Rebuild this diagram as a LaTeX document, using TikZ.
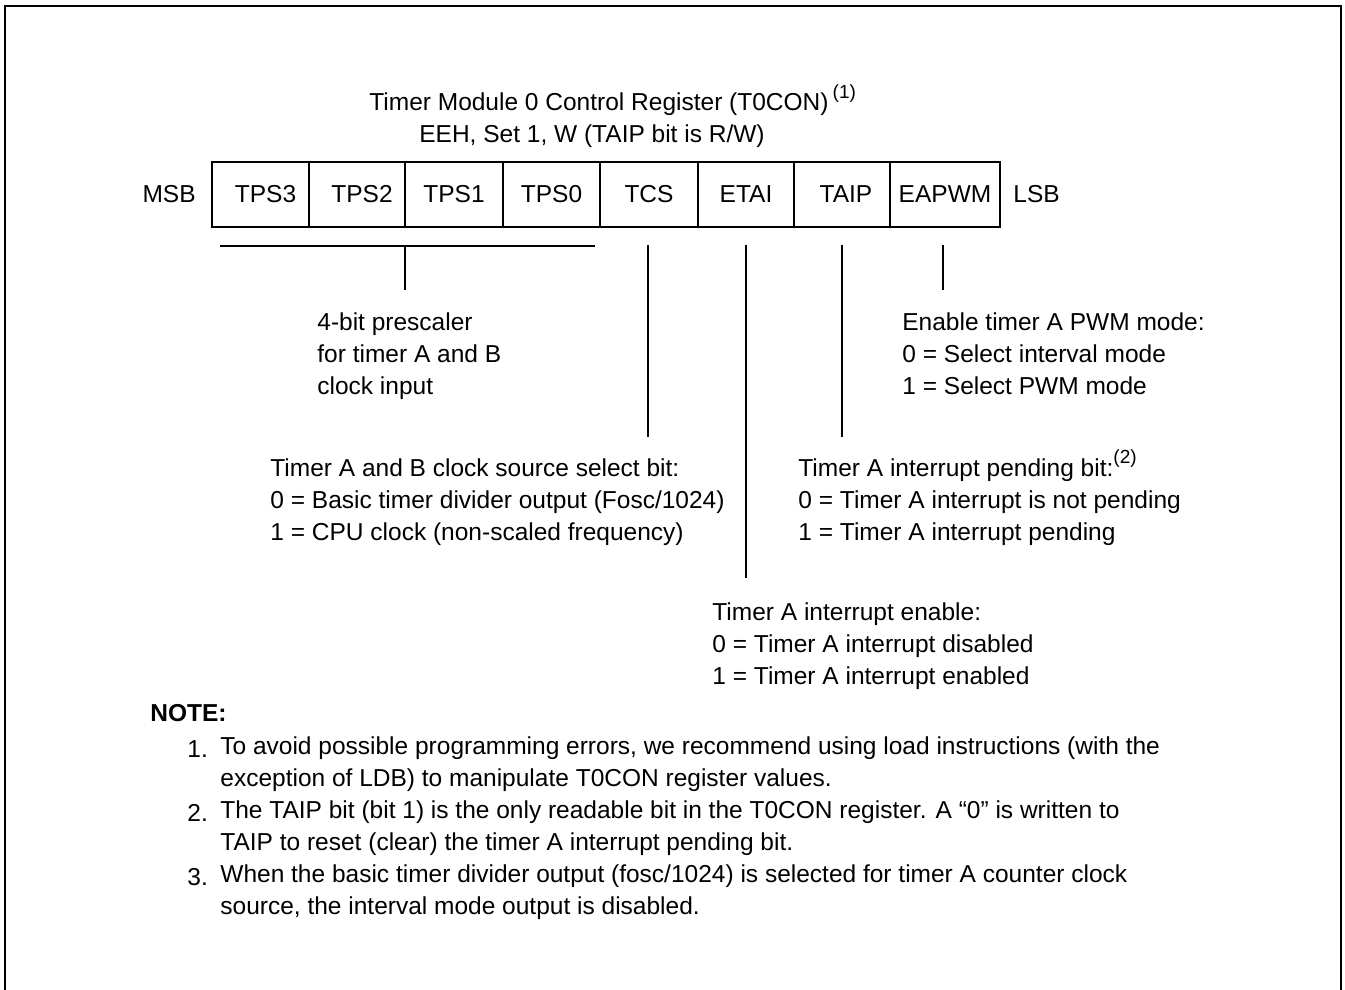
\documentclass[tikz,border=0pt]{standalone}
\usepackage{fontspec}
\setmainfont{Liberation Sans}
\newcommand{\regnote}[1]{\smash{\raisebox{0.5em}{\fontsize{9.5}{10}\selectfont(#1)}}}
\begin{document}
\begin{tikzpicture}[x=0.5pt,y=-0.5pt,
    every node/.style={font=\fontsize{12.25}{16}\selectfont, inner sep=0pt},
    bitcell/.style={draw, line width=1pt, minimum height=32.5pt},
    desc/.style={anchor=north west, align=left},
    stem/.style={line width=0.9pt}]
  \useasboundingbox (0,0) rectangle (1345,990);
  \draw[line width=1.3pt] (5,1000) -- (5,6) -- (1341,6) -- (1341,1000);

  \node[anchor=base] (title) at (599,111) {Timer Module 0 Control Register (T0CON)\rlap{\,\regnote{1}}};
  \node[anchor=base] (addr) at (592,143) {EEH, Set 1, W (TAIP bit is R/W)};

  \node[bitcell, minimum width=48.5pt] (tps3) at (260.5,194.5) {\hspace{5pt}TPS3};
  \node[bitcell, minimum width=48pt] (tps2) at (357,194.5) {\hspace{5pt}TPS2};
  \node[bitcell, minimum width=49pt] (tps1) at (454,194.5) {TPS1};
  \node[bitcell, minimum width=48.5pt] (tps0) at (551.5,194.5) {TPS0};
  \node[bitcell, minimum width=49pt] (tcs) at (649,194.5) {TCS};
  \node[bitcell, minimum width=48pt] (etai) at (746,194.5) {ETAI};
  \node[bitcell, minimum width=48pt] (taip) at (842,194.5) {\hspace{4pt}TAIP};
  \node[bitcell, minimum width=55pt] (eapwm) at (945,194.5) {EAPWM};
  \node[anchor=base east] (msb) at ([xshift=-7.5pt]tps3.base west) {MSB};
  \node[anchor=base west] (lsb) at ([xshift=6pt]eapwm.base east) {LSB};

  \coordinate (brL) at (220,246);
  \coordinate (brR) at (595,246);
  \coordinate (brM) at (405,246);
  \coordinate (brE) at (405,290);
  \coordinate (tcsT) at (648,245);
  \coordinate (tcsB) at (648,437);
  \coordinate (etaiT) at (746,245);
  \coordinate (etaiB) at (746,578);
  \coordinate (taipT) at (842,245);
  \coordinate (taipB) at (842,437);
  \coordinate (pwmT) at (943,245);
  \coordinate (pwmB) at (943,290);

  \draw[stem] (brL) -- (brR);
  \draw[stem] (brM) -- (brE);
  \draw[stem] (tcsT) -- (tcsB);
  \draw[stem] (etaiT) -- (etaiB);
  \draw[stem] (taipT) -- (taipB);
  \draw[stem] (pwmT) -- (pwmB);

  \node[desc] (presc) at (317,312) {4-bit prescaler\\for timer A and B\\clock input};
  \node[desc] (clksrc) at (270,458) {Timer A and B clock source select bit:\\0 = Basic timer divider output (Fosc/1024)\\1 = CPU clock (non-scaled frequency)};
  \node[desc] (inten) at (712,602) {Timer A interrupt enable:\\0 = Timer A interrupt disabled\\1 = Timer A interrupt enabled};
  \node[desc] (intpnd) at (798,458) {Timer A interrupt pending bit:\regnote{2}\\0 = Timer A interrupt is not pending\\1 = Timer A interrupt pending};
  \node[desc] (pwm) at (902,312) {Enable timer A PWM mode:\\0 = Select interval mode\\1 = Select PWM mode};

  \node[anchor=north west, font=\fontsize{12.25}{16}\selectfont\bfseries] (note) at (150,704) {NOTE:};
  \node[desc] (n1num) at (187,740) {1.};
  \node[desc] (n1) at (220,736) {To avoid possible programming errors, we recommend using load instructions (with the\\exception of LDB) to manipulate T0CON register values.};
  \node[desc] (n2num) at (187,804) {2.};
  \node[desc] (n2) at (220,800) {The TAIP bit (bit 1) is the only readable bit in the T0CON register. A “0” is written to\\TAIP to reset (clear) the timer A interrupt pending bit.};
  \node[desc] (n3num) at (187,868) {3.};
  \node[desc] (n3) at (220,864) {When the basic timer divider output (fosc/1024) is selected for timer A counter clock\\source, the interval mode output is disabled.};
\end{tikzpicture}
\end{document}
